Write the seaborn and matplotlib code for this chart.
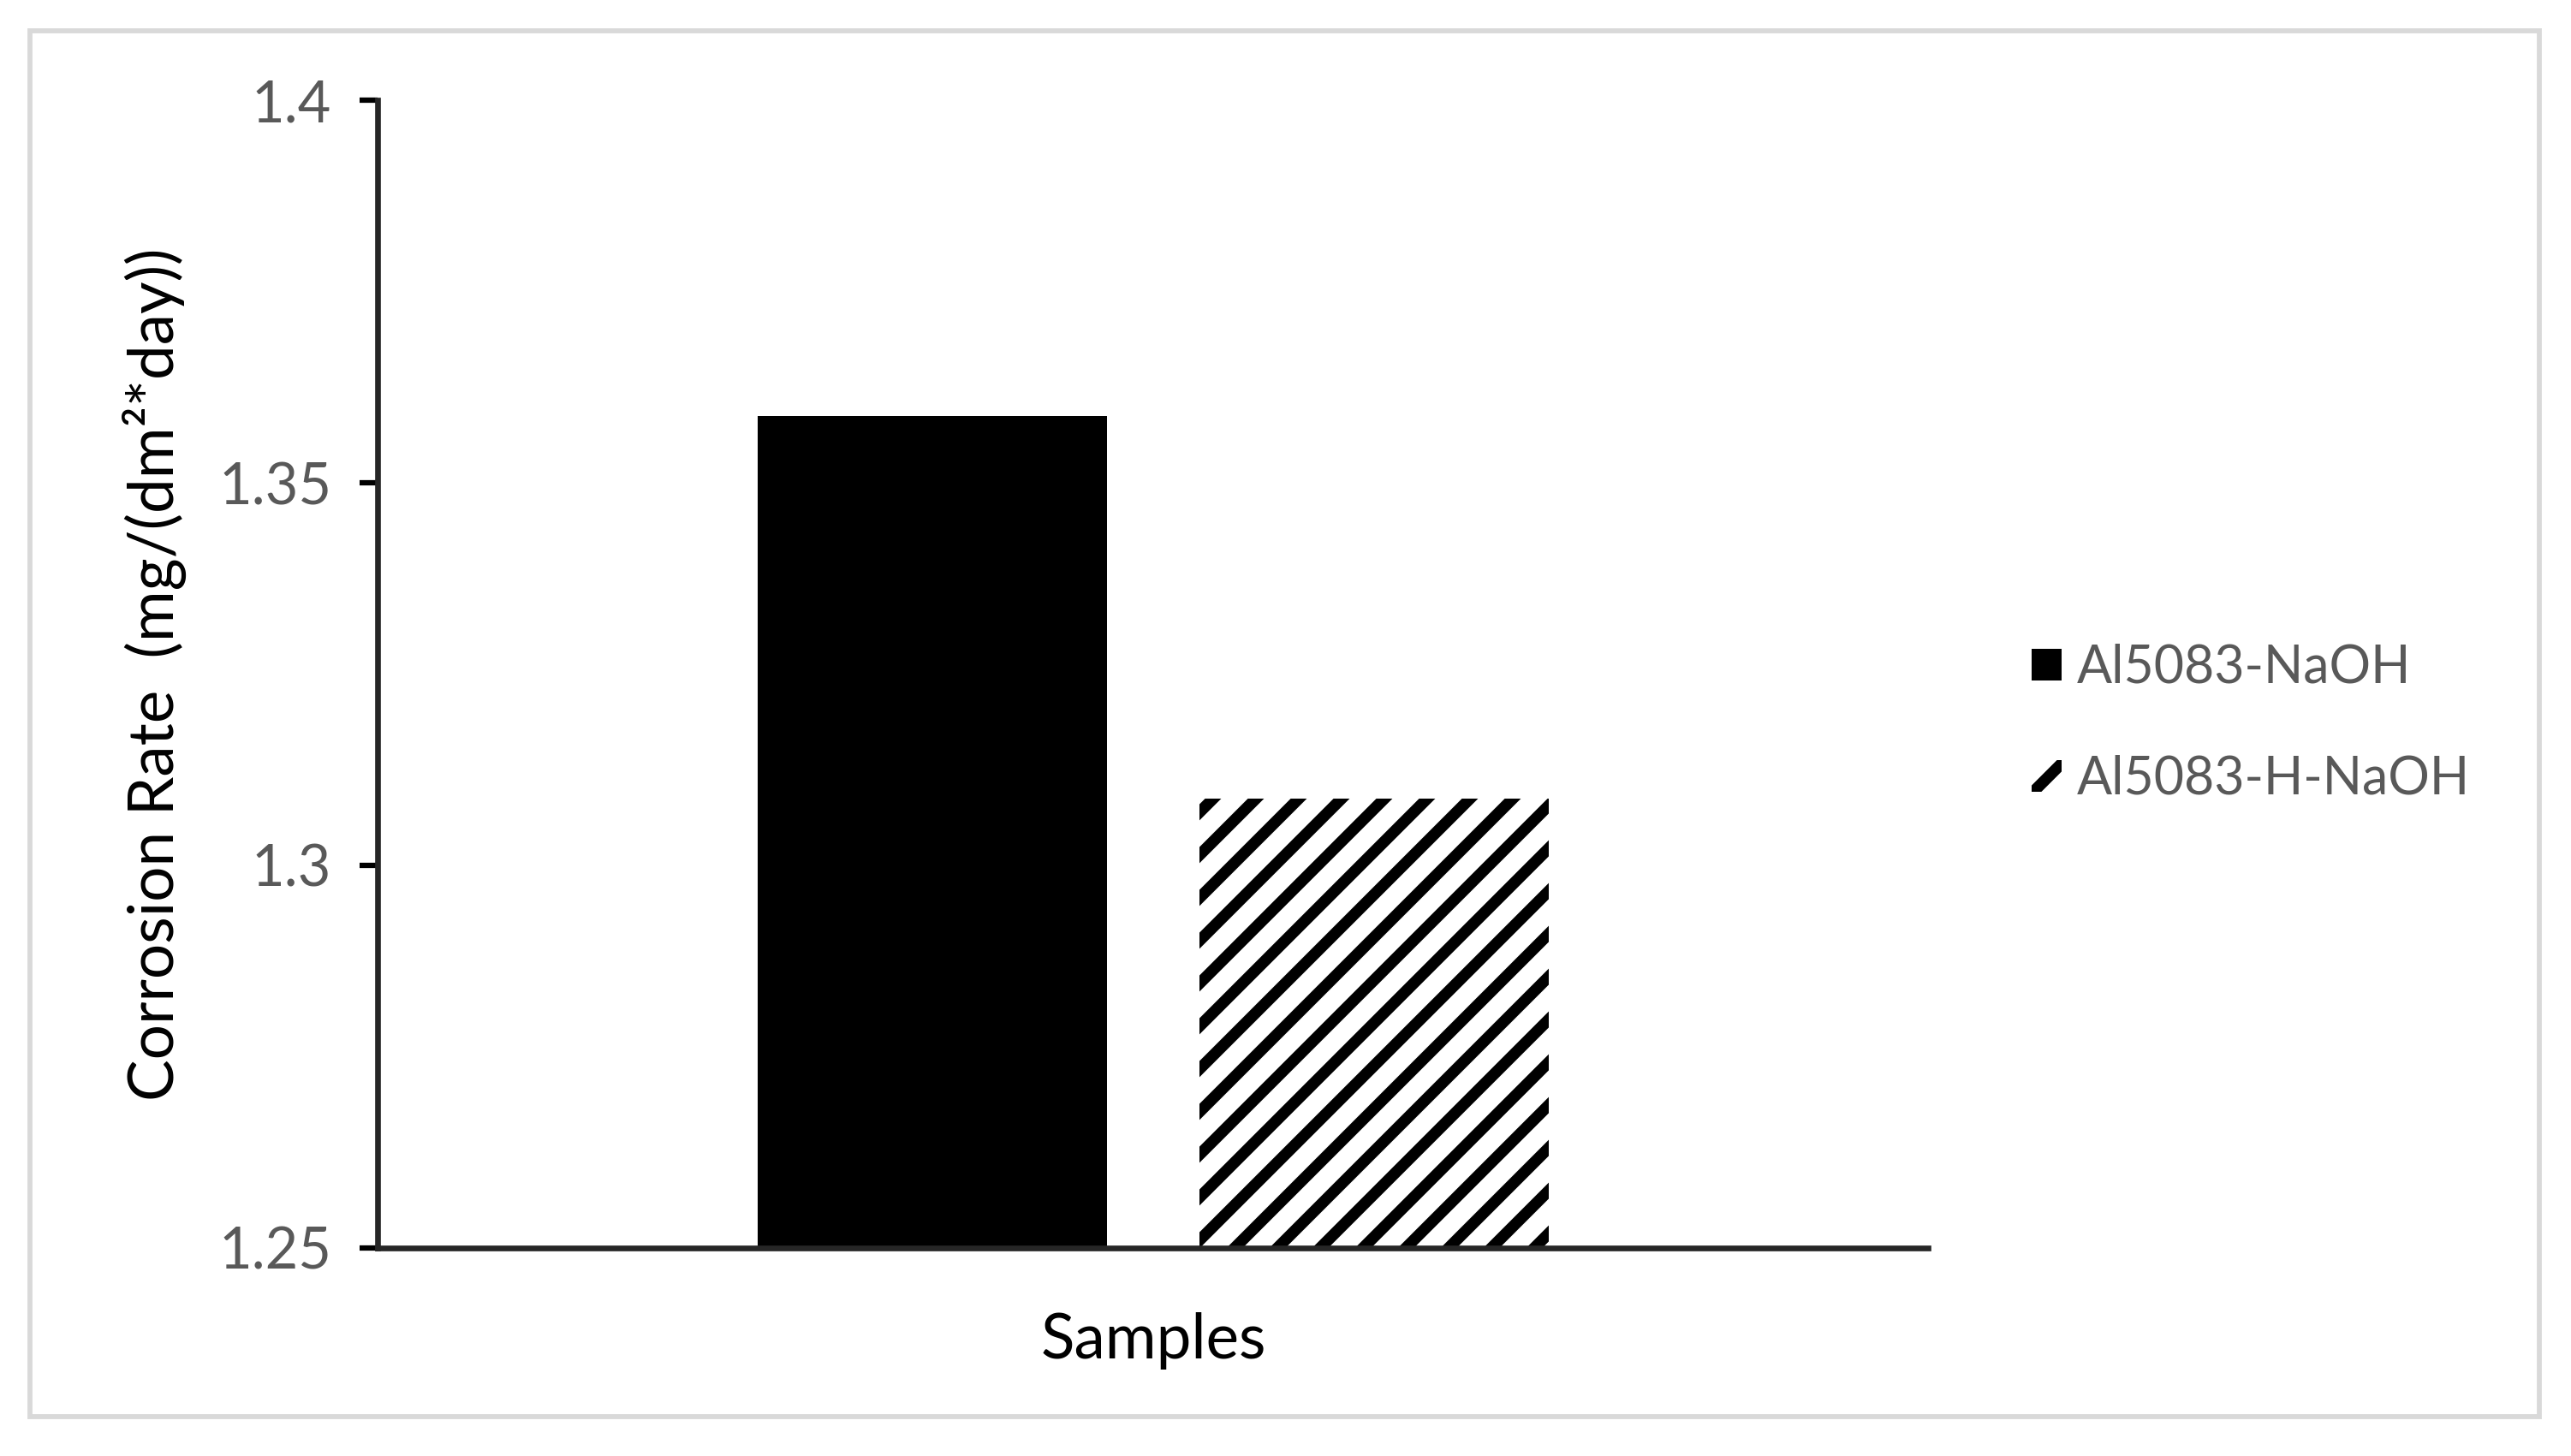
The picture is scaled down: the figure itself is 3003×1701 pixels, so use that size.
import pandas as pd
import matplotlib.pyplot as plt
import seaborn as sns
from matplotlib.patches import Rectangle

# Datos
muestras = ['Al5083-NaOH', 'Al5083-H-NaOH']
corrosion = [1.3587, 1.3087]
categoria = ['Samples', 'Samples']
yticks = [1.25, 1.3, 1.35, 1.4]
ytick_labels = ['1.25', '1.3', '1.35', '1.4']

df = pd.DataFrame({'Categoria': categoria, 'Muestra': muestras, 'Tasa': corrosion})

sns.set_style('white')
plt.rcParams['font.family'] = ['Lato', 'DejaVu Sans']
plt.rcParams['hatch.linewidth'] = 3.2
gris = '#595959'

fig = plt.figure(figsize=(10.01, 5.67), dpi=300)
ax = fig.add_axes([0.147, 0.143, 0.603, 0.788])

sns.barplot(data=df, x='Categoria', y='Tasa', hue='Muestra',
            palette=['black', 'white'], width=0.57, gap=0.21,
            linewidth=0, ax=ax, legend=False)

# Rayado diagonal para la segunda muestra
for bar in ax.containers[1]:
    bar.set_hatch('//')
    bar.set_edgecolor('black')
    bar.set_linewidth(0)

ax.set_ylim(1.25, 1.4)
ax.set_xlim(-0.5, 0.5)
ax.set_yticks(yticks)
ax.set_yticklabels(ytick_labels, color=gris, fontsize=16)
ax.set_xticks([])
ax.set_xlabel('Samples', fontsize=17.5, color='black', labelpad=18)
ax.set_ylabel('Corrosion Rate  (mg/(dm²*day))', fontsize=17.5, color='black', labelpad=9)

ax.spines['top'].set_visible(False)
ax.spines['right'].set_visible(False)
ax.spines['left'].set_linewidth(1.6)
ax.spines['bottom'].set_linewidth(1.6)
ax.tick_params(axis='y', left=True, length=5, width=1.5, color='black', pad=8)

# Leyenda
handles = [ax.containers[0][0], ax.containers[1][0]]
leg = ax.legend(handles, muestras, loc='center left', bbox_to_anchor=(0.772, 0.503),
                bbox_transform=fig.transFigure, frameon=False, fontsize=14.6,
                handlelength=0.57, handleheight=0.57, handletextpad=0.3,
                labelspacing=1.2, labelcolor=gris)

# Borde del gráfico
fig.patches.append(Rectangle((0.0117, 0.027), 0.976, 0.952, transform=fig.transFigure,
                             fill=False, edgecolor='#d9d9d9', linewidth=1.4))

fig.savefig('out.png', dpi=300)
